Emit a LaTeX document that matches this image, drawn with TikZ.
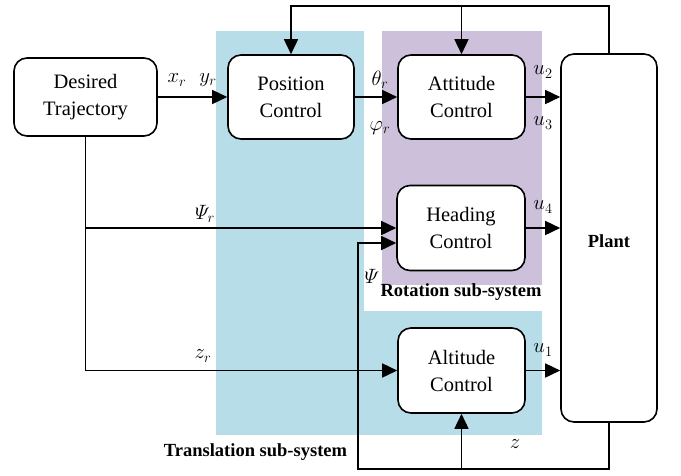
\documentclass[tikz,border=0pt]{standalone}
\usepackage{fontspec}
\usepackage{amsmath}
\setmainfont{Liberation Serif}
\usetikzlibrary{arrows.meta}
\definecolor{transblue}{RGB}{183,221,232}
\definecolor{rotpurple}{RGB}{204,192,218}
\begin{document}
\begin{tikzpicture}[x=1pt,y=-1pt,
 blk/.style={draw, line width=1.6pt, rounded corners=13pt, fill=white, align=center, font=\fontsize{20.5}{27}\selectfont, inner sep=0pt},
 conn/.style={line width=1.6pt, -{Triangle[length=15pt,width=14pt]}},
 wire/.style={line width=1.6pt},
 lbl/.style={font=\fontsize{20}{24}\selectfont, inner sep=0pt},
 subsys/.style={font=\fontsize{18.5}{22}\selectfont\bfseries, inner sep=0pt}]
\useasboundingbox (0,0) rectangle (681,475);
% regions
\fill[transblue] (216,31) rectangle (364,435);
\fill[transblue] (364,311) rectangle (542,435);
\fill[rotpurple] (382,31) rectangle (542,285);
% blocks
\node[blk, minimum width=143pt, minimum height=78pt] (dt) at (85.5,97) {Desired\\Trajectory};
\node[blk, minimum width=126pt, minimum height=84pt] (pos) at (291,97) {Position\\Control};
\node[blk, minimum width=127pt, minimum height=84pt] (att) at (461.5,97) {Attitude\\Control};
\node[blk, minimum width=128pt, minimum height=85pt] (head) at (461,228) {Heading\\Control};
\node[blk, minimum width=127pt, minimum height=85pt] (alt) at (461.5,370.5) {Altitude\\Control};
\node[blk, minimum width=96pt, minimum height=368pt] (plant) at (609,238) {};
\node[subsys] (plantlbl) at (609,241) {Plant};
% coordinates
\coordinate (top) at (609,6);
\coordinate (fbx) at (358,469);
\coordinate (psiin) at ([yshift=-15pt]head.west);
% connectors
\draw[conn] (dt.east) -- (pos.west);
\draw[conn] (pos.east) -- (att.west);
\draw[conn] (att.east) -- (att.east -| plant.west);
\draw[conn] (head.east) -- (head.east -| plant.west);
\draw[conn] (alt.east) -- (alt.east -| plant.west);
\draw[conn] (dt.south) |- (alt.west);
\draw[conn] (dt.south |- head.west) -- (head.west);
\draw[conn] (plant.north) |- (top) -| (pos.north);
\draw[conn] (att.north |- top) -- (att.north);
\draw[conn] (plant.south) |- (fbx) |- (psiin);
\draw[conn] (alt.south |- fbx) -- (alt.south);
% labels
\node[lbl] (lxr) at (177,80) {$x_r$};
\node[lbl] (lyr) at (208,80) {$y_r$};
\node[lbl] (lth) at (380,80) {$\theta_r$};
\node[lbl] (lph) at (380,128) {$\varphi_r$};
\node[lbl] (lu2) at (543,72) {$u_2$};
\node[lbl] (lu3) at (543,123) {$u_3$};
\node[lbl] (lu4) at (543,207) {$u_4$};
\node[lbl] (lu1) at (543,350) {$u_1$};
\node[lbl] (lpsir) at (205,214) {$\varPsi_r$};
\node[lbl] (lpsi) at (372,276) {$\varPsi$};
\node[lbl] (lzr) at (203,356) {$z_r$};
\node[lbl] (lz) at (515,444) {$z$};
\node[subsys] (trans) at (255.5,452) {Translation sub-system};
\node[subsys] (rot) at (461,292) {Rotation sub-system};
\end{tikzpicture}
\end{document}
